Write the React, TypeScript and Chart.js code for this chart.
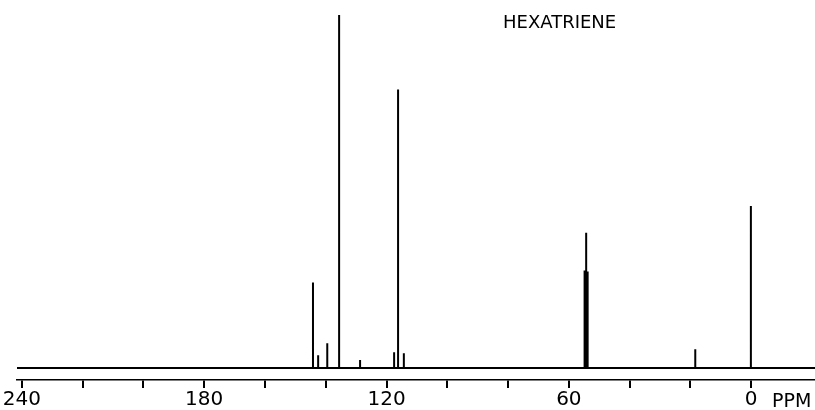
import React, { useEffect, useRef } from "react";
import { Chart, registerables } from "chart.js";

Chart.register(...registerables);

// Spectrum range (ppm, left to right)
const PPM_MAX = 241.6;
const PPM_MIN = -21;

// Peak positions (ppm) and heights (arbitrary intensity units)
const PEAK_PPM = [144.2, 142.5, 139.5, 135.6, 128.7, 117.5, 116.2, 114.3, 55.0, 54.7, 54.3, 54.0, 53.7, 18.4, 0.1];
const PEAK_HEIGHT = [86, 13, 25, 355, 8, 16, 280, 15, 70, 98, 136, 97, 55, 19, 163];

// Axis ticks
const TICK_VALUES = [240, 220, 200, 180, 160, 140, 120, 100, 80, 60, 40, 20, 0];
const TICK_LABELS = ["240", "", "", "180", "", "", "120", "", "", "60", "", "", "0"];

const TITLE = "HEXATRIENE";
const UNIT = "PPM";

export default function App() {
  const ref = useRef<HTMLCanvasElement | null>(null);

  useEffect(() => {
    if (!ref.current) return;
    const order = PEAK_PPM.map((p, i) => i).sort((a, b) => PEAK_PPM[b] - PEAK_PPM[a]);
    const pts: { x: number; y: number }[] = [{ x: PPM_MAX, y: 0 }];
    order.forEach((i) => {
      pts.push({ x: PEAK_PPM[i], y: 0 });
      pts.push({ x: PEAK_PPM[i], y: PEAK_HEIGHT[i] });
      pts.push({ x: PEAK_PPM[i], y: 0 });
    });
    pts.push({ x: PPM_MIN, y: 0 });

    const textPlugin = {
      id: "texts",
      afterDraw(chart: any) {
        const ctx = chart.ctx;
        ctx.save();
        ctx.fillStyle = "#000";
        ctx.textBaseline = "alphabetic";
        ctx.textAlign = "left";
        ctx.font = "18px 'DejaVu Sans'";
        ctx.fillText(TITLE, 503, 28);
        ctx.font = "19px 'DejaVu Sans'";
        ctx.fillText(UNIT, 772, 407);
        ctx.restore();
      },
    };

    const chart = new Chart(ref.current, {
      type: "line",
      data: {
        datasets: [
          {
            data: pts,
            borderColor: "#000",
            borderWidth: 2,
            pointRadius: 0,
            tension: 0,
          },
        ],
      },
      options: {
        animation: false,
        responsive: false,
        maintainAspectRatio: false,
        parsing: false as any,
        layout: { padding: { left: 17, right: 0, top: 0, bottom: 0 } },
        plugins: { legend: { display: false }, tooltip: { enabled: false }, title: { display: false } },
        scales: {
          x: {
            type: "linear",
            reverse: true,
            min: PPM_MIN,
            max: PPM_MAX,
            afterBuildTicks: (scale: any) => {
              scale.ticks = TICK_VALUES.map((v) => ({ value: v }));
            },
            border: { display: true, color: "#000", width: 1.5 },
            grid: { drawOnChartArea: false, drawTicks: true, tickLength: 8, color: "#000", lineWidth: 2 },
            ticks: {
              autoSkip: false,
              maxRotation: 0,
              padding: 2,
              color: "#000",
              font: { family: "'DejaVu Sans'", size: 20, lineHeight: 1 },
              callback: (v: any) => {
                const i = TICK_VALUES.indexOf(Number(v));
                return i >= 0 ? TICK_LABELS[i] : "";
              },
            },
          },
          y: {
            display: false,
            min: -12,
            max: 370,
          },
        },
      },
      plugins: [textPlugin],
    });
    return () => chart.destroy();
  }, []);

  return (
    <div style={{ position: "fixed", left: 0, top: 0, width: 815, height: 410, overflow: "hidden", background: "#fff" }}>
      <canvas ref={ref} width={815} height={412} style={{ width: 815, height: 412, display: "block" }} />
    </div>
  );
}
